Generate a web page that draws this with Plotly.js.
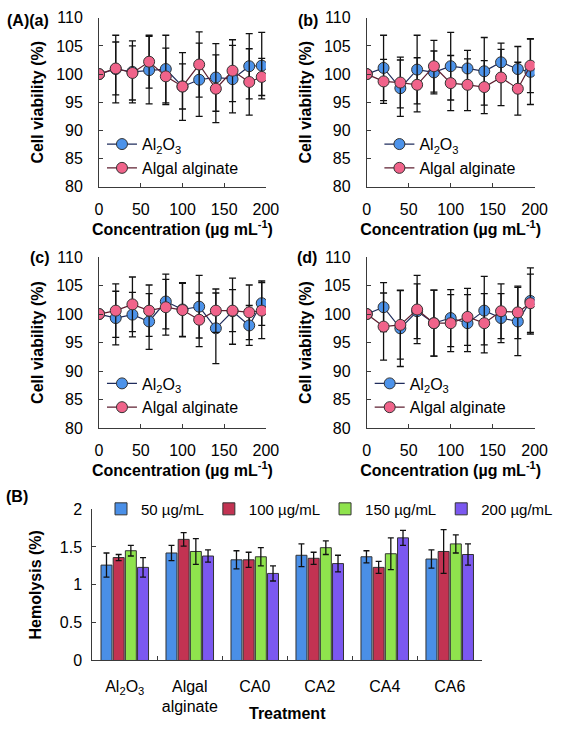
<!DOCTYPE html>
<html>
<head>
<meta charset="utf-8">
<script src="https://cdn.plot.ly/plotly-3.0.1.min.js"></script>
<style>html,body{margin:0;padding:0;background:#fff;}#chart{width:567px;height:732px;}</style>
</head>
<body>
<div id="chart"></div>
<script>
// ---- data ----
const concentration = [0, 20, 40, 60, 80, 100, 120, 140, 160, 180, 195];

const a_al2o3 = [100, 100.9, 100.4, 100.7, 100.9, 97.8, 99.0, 99.4, 99.1, 101.4, 101.5];
const a_al2o3_err = [0, 6.0, 5.5, 6.0, 6.0, 6.0, 6.5, 6.0, 6.0, 5.8, 5.9];
const a_alginate = [100, 101.0, 100.2, 102.2, 99.6, 97.8, 101.7, 97.4, 100.6, 98.6, 99.5];
const a_alginate_err = [0, 4.7, 4.8, 4.7, 5.0, 4.0, 5.8, 6.0, 5.5, 5.9, 3.3];

const b_al2o3 = [100, 101.1, 97.5, 100.8, 100.3, 101.4, 101.0, 100.5, 102.1, 100.9, 100.4];
const b_al2o3_err = [0, 5.8, 5.0, 6.1, 3.8, 6.0, 3.2, 6.0, 3.4, 4.0, 5.8];
const b_alginate = [100, 98.7, 98.5, 98.1, 101.4, 98.4, 98.1, 97.7, 99.4, 97.4, 101.5];
const b_alginate_err = [0, 3.9, 4.5, 4.8, 4.6, 4.9, 4.6, 4.7, 5.0, 4.7, 4.8];

const c_al2o3 = [100, 99.3, 99.9, 98.7, 102.2, 100.8, 101.3, 97.5, 100.5, 98.0, 101.9];
const c_al2o3_err = [0, 4.7, 3.9, 4.9, 4.8, 4.7, 5.5, 6.2, 5.8, 3.5, 3.9];
const c_alginate = [100, 100.6, 101.7, 100.6, 101.2, 100.7, 99.0, 100.6, 100.6, 100.3, 100.6];
const c_alginate_err = [0, 4.7, 4.8, 4.5, 4.9, 4.7, 4.7, 3.8, 3.7, 4.8, 4.9];

const d_al2o3 = [100, 101.2, 97.5, 100.5, 98.4, 99.3, 98.4, 100.6, 99.3, 98.7, 102.3];
const d_al2o3_err = [0, 4.3, 6.7, 4.8, 5.8, 5.0, 5.0, 6.0, 4.3, 6.0, 5.8];
const d_alginate = [100, 97.8, 98.1, 100.8, 98.4, 98.4, 99.5, 98.4, 100.5, 100.3, 101.9];
const d_alginate_err = [0, 5.9, 6.0, 6.0, 5.8, 5.0, 5.0, 5.2, 4.8, 4.6, 5.1];

const treatments = ['Al<sub>2</sub>O<sub>3</sub>', 'Algal<br>alginate', 'CA0', 'CA2', 'CA4', 'CA6'];
const dose_labels = ['50 µg/mL', '100 µg/mL', '150 µg/mL', '200 µg/mL'];
const hemo_50 = [1.26, 1.42, 1.33, 1.39, 1.37, 1.34];
const hemo_50_err = [0.16, 0.10, 0.12, 0.15, 0.08, 0.12];
const hemo_100 = [1.36, 1.60, 1.33, 1.35, 1.23, 1.44];
const hemo_100_err = [0.04, 0.09, 0.10, 0.08, 0.08, 0.29];
const hemo_150 = [1.45, 1.44, 1.37, 1.49, 1.41, 1.54];
const hemo_150_err = [0.07, 0.17, 0.12, 0.09, 0.21, 0.12];
const hemo_200 = [1.23, 1.38, 1.15, 1.28, 1.62, 1.40];
const hemo_200_err = [0.13, 0.08, 0.10, 0.11, 0.10, 0.14];

const seriesNames = ['Al<sub>2</sub>O<sub>3</sub>', 'Algal alginate'];
const xTickVals = [0, 50, 100, 150, 200];
const yTickVals = [80, 85, 90, 95, 100, 105, 110];

// ---- styles ----
const FONT = 'Arial, "Liberation Sans", sans-serif';
const blueFill = '#4d93ea', blueLine = '#1f2c5c';
const pinkFill = '#f0638a', pinkLine = '#5e1f30';
const barColors = ['#4a8fe7', '#c23352', '#8fe34d', '#7b58f0'];
const AXC = '#3a3a3a';

function lineTrace(y, err, name, fill, lc, xa, ya, lg) {
  return {
    type: 'scatter', mode: 'lines+markers', x: concentration, y: y, name: name,
    xaxis: xa, yaxis: ya, legend: lg, showlegend: true,
    line: {color: lc, width: 1.2},
    marker: {size: 11, color: fill, line: {color: '#333', width: 1}},
    error_y: {type: 'data', array: err, visible: true, color: '#111', thickness: 1.3, width: 3.5}
  };
}

const panels = [
  [a_al2o3, a_al2o3_err, a_alginate, a_alginate_err, 'x', 'y', 'legend'],
  [b_al2o3, b_al2o3_err, b_alginate, b_alginate_err, 'x2', 'y2', 'legend2'],
  [c_al2o3, c_al2o3_err, c_alginate, c_alginate_err, 'x3', 'y3', 'legend3'],
  [d_al2o3, d_al2o3_err, d_alginate, d_alginate_err, 'x4', 'y4', 'legend4']
];
const data = [];
panels.forEach(p => {
  data.push(lineTrace(p[0], p[1], seriesNames[0], blueFill, blueLine, p[4], p[5], p[6]));
  data.push(lineTrace(p[2], p[3], seriesNames[1], pinkFill, pinkLine, p[4], p[5], p[6]));
});
const hemo = [hemo_50, hemo_100, hemo_150, hemo_200];
const hemoErr = [hemo_50_err, hemo_100_err, hemo_150_err, hemo_200_err];
hemo.forEach((v, i) => {
  data.push({
    type: 'bar', x: treatments, y: v, name: dose_labels[i], xaxis: 'x5', yaxis: 'y5', legend: 'legend5',
    marker: {color: barColors[i], line: {color: '#333', width: 1}},
    error_y: {type: 'data', array: hemoErr[i], visible: true, color: '#111', thickness: 1.3, width: 3}
  });
});

const W = 567, H = 732;
const px = v => v / W, py = v => 1 - v / H;

function xAxisLine(dom, anchor) {
  return {
    domain: dom, anchor: anchor, range: [0, 200], tickvals: xTickVals,
    showline: true, linecolor: AXC, linewidth: 1, ticks: 'inside', ticklen: 4, tickcolor: AXC,
    showgrid: false, zeroline: false, tickfont: {size: 16, color: '#000'}, ticklabelstandoff: 8,
    automargin: true,
    title: {text: 'Concentration (µg mL<sup>-1</sup>)', font: {size: 16, color: '#000', weight: 'bold'}, standoff: 6}
  };
}
function yAxisLine(dom, anchor) {
  return {
    domain: dom, anchor: anchor, range: [80, 110], tickvals: yTickVals,
    showline: true, linecolor: AXC, linewidth: 1, ticks: 'inside', ticklen: 4, tickcolor: AXC,
    showgrid: false, zeroline: false, tickfont: {size: 16, color: '#000'}, ticklabelstandoff: 12,
    automargin: true,
    title: {text: 'Cell viability (%)', font: {size: 16, color: '#000', weight: 'bold'}, standoff: 8}
  };
}
function lineLegend(xpx, ypx) {
  return {x: px(xpx), y: py(ypx), xanchor: 'left', yanchor: 'top', bgcolor: 'rgba(0,0,0,0)',
          font: {size: 16, color: '#000'}, tracegroupgap: 0, itemwidth: 30};
}

const xdomA = [px(98), px(270)], xdomB = [px(374), px(547)];
const ydomTop = [py(183), py(10)], ydomMid = [py(430), py(255)];
const barDomX = [px(91), px(493)];

const layout = {
  width: W, height: H,
  margin: {l: 0, r: 0, t: 0, b: 0},
  paper_bgcolor: '#fff', plot_bgcolor: 'rgba(0,0,0,0)',
  font: {family: FONT, size: 16, color: '#000'},
  xaxis: xAxisLine(xdomA, 'y'), yaxis: yAxisLine(ydomTop, 'x'),
  xaxis2: xAxisLine(xdomB, 'y2'), yaxis2: yAxisLine(ydomTop, 'x2'),
  xaxis3: xAxisLine(xdomA, 'y3'), yaxis3: yAxisLine(ydomMid, 'x3'),
  xaxis4: xAxisLine(xdomB, 'y4'), yaxis4: yAxisLine(ydomMid, 'x4'),
  xaxis5: {
    domain: barDomX, anchor: 'y5', type: 'category', tickangle: 0,
    showline: true, linecolor: AXC, linewidth: 1, ticks: 'inside', ticklen: 4, tickcolor: AXC,
    tickson: 'boundaries', showgrid: false, zeroline: false,
    tickfont: {size: 16, color: '#000'}, ticklabelstandoff: 11, automargin: false
  },
  yaxis5: {
    domain: [py(668), py(513)], anchor: 'x5', range: [0, 2], tickvals: [0, 0.5, 1, 1.5, 2],
    ticktext: ['0', '0.5', '1', '1.5', '2'],
    showline: true, linecolor: AXC, linewidth: 1, ticks: 'inside', ticklen: 4, tickcolor: AXC,
    showgrid: false, zeroline: false, tickfont: {size: 16, color: '#000'}, ticklabelstandoff: 6,
    automargin: true,
    title: {text: 'Hemolysis (%)', font: {size: 16, color: '#000', weight: 'bold'}, standoff: 14}
  },
  barmode: 'group', bargap: 0.25, bargroupgap: 0.1,
  legend: lineLegend(101, 122),
  legend2: lineLegend(387, 122),
  legend3: lineLegend(101, 367),
  legend4: lineLegend(377, 367),
  legend5: {x: px(100), y: py(513), xanchor: 'left', yanchor: 'middle', orientation: 'h',
            bgcolor: 'rgba(0,0,0,0)', font: {size: 15, color: '#000'}},
  annotations: [
    {text: '<b>(A)(a)</b>', x: px(1), y: py(13), xref: 'paper', yref: 'paper', xanchor: 'left', yanchor: 'middle', showarrow: false, font: {size: 16}},
    {text: '<b>(b)</b>', x: px(301), y: py(13), xref: 'paper', yref: 'paper', xanchor: 'left', yanchor: 'middle', showarrow: false, font: {size: 16}},
    {text: '<b>(c)</b>', x: px(25), y: py(255), xref: 'paper', yref: 'paper', xanchor: 'left', yanchor: 'middle', showarrow: false, font: {size: 16}},
    {text: '<b>(d)</b>', x: px(300), y: py(255), xref: 'paper', yref: 'paper', xanchor: 'left', yanchor: 'middle', showarrow: false, font: {size: 16}},
    {text: '<b>(B)</b>', x: px(0), y: py(500), xref: 'paper', yref: 'paper', xanchor: 'left', yanchor: 'middle', showarrow: false, font: {size: 16}},
    {text: '<b>Treatment</b>', x: (barDomX[0] + barDomX[1]) / 2, y: py(722), xref: 'paper', yref: 'paper', xanchor: 'center', yanchor: 'middle', showarrow: false, font: {size: 16}}
  ]
};

Plotly.newPlot('chart', data, layout, {staticPlot: true, displayModeBar: false});
</script>
</body>
</html>
